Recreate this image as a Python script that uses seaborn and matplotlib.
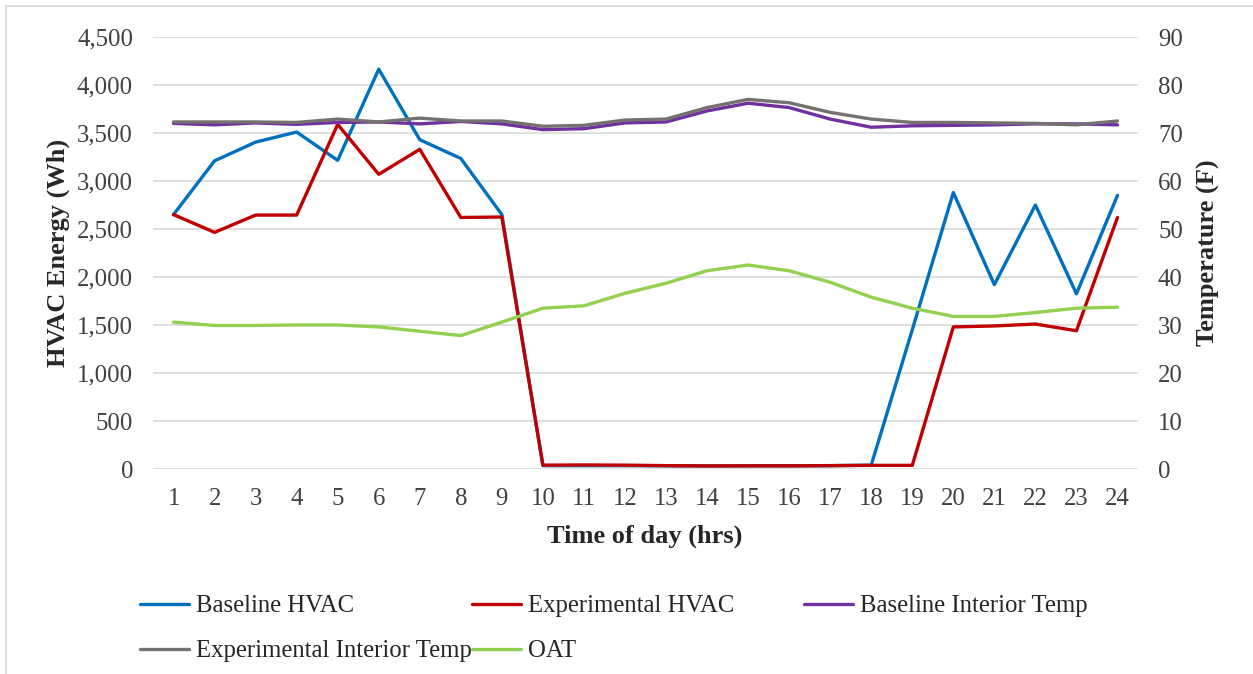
import matplotlib
matplotlib.use('Agg')
import matplotlib.pyplot as plt
import seaborn as sns
import pandas as pd
from matplotlib.patches import Rectangle
from matplotlib.ticker import FuncFormatter, MultipleLocator

hours = list(range(1, 25))
baseline_hvac = [2650, 3210, 3405, 3510, 3215, 4165, 3430, 3235, 2650, 35, 35, 35, 33, 32,
                 33, 33, 35, 40, 1450, 2880, 1920, 2750, 1825, 2850]
experimental_hvac = [2650, 2465, 2645, 2645, 3590, 3070, 3330, 2620, 2625, 40, 42, 40, 35, 32,
                     33, 33, 35, 38, 38, 1480, 1490, 1510, 1440, 2620]
baseline_temp = [72.0, 71.7, 72.1, 71.8, 72.2, 72.3, 71.9, 72.4, 71.9, 70.7, 70.9, 72.1, 72.3,
                 74.6, 76.2, 75.3, 72.9, 71.2, 71.5, 71.6, 71.7, 71.9, 71.9, 71.7]
experimental_temp = [72.3, 72.3, 72.3, 72.2, 72.9, 72.3, 73.1, 72.5, 72.5, 71.4, 71.6, 72.7, 72.9,
                     75.3, 77.0, 76.3, 74.3, 72.9, 72.2, 72.2, 72.1, 72.0, 71.7, 72.5]
oat = [30.6, 29.9, 29.9, 30.0, 30.0, 29.6, 28.7, 27.8, 30.6, 33.5, 34.0, 36.6, 38.7, 41.3,
       42.5, 41.3, 38.9, 35.8, 33.5, 31.8, 31.8, 32.6, 33.5, 33.7]

series_names = ["Baseline HVAC", "Experimental HVAC", "Baseline Interior Temp",
                "Experimental Interior Temp", "OAT"]
colors = ["#0070C0", "#C00000", "#7030A0", "#767171", "#92D050"]

sns.set_theme(style="white")
plt.rcParams['font.family'] = ['Liberation Serif', 'DejaVu Serif']

fig = plt.figure(figsize=(12.53, 6.74), dpi=100)
L, R, T, B = 153, 1138, 37, 469
W, H = R - L, B - T
ax = fig.add_axes([L / 1253, 1 - B / 674, W / 1253, H / 674])
ax2 = ax.twinx()

lw = 2.4
left_data = [baseline_hvac, experimental_hvac]
right_data = [baseline_temp, experimental_temp, oat]
for name, vals, c in zip(series_names[:2], left_data, colors[:2]):
    df = pd.DataFrame({"hour": hours, "value": vals})
    sns.lineplot(data=df, x="hour", y="value", ax=ax, color=c, lw=lw, label=name)
for name, vals, c in zip(series_names[2:], right_data, colors[2:]):
    df = pd.DataFrame({"hour": hours, "value": vals})
    sns.lineplot(data=df, x="hour", y="value", ax=ax2, color=c, lw=lw, label=name)

h1, l1 = ax.get_legend_handles_labels()
h2, l2 = ax2.get_legend_handles_labels()
for a in (ax, ax2):
    if a.get_legend() is not None:
        a.get_legend().remove()
hmap = dict(zip(l1 + l2, h1 + h2))

ax.set_xlim(0.5, 24.5)
ax.set_ylim(0, 4500)
ax2.set_ylim(0, 90)
ax.yaxis.set_major_locator(MultipleLocator(500))
ax2.yaxis.set_major_locator(MultipleLocator(10))
ax.yaxis.set_major_formatter(FuncFormatter(lambda v, p: f"{int(v):,}"))
ax.set_xticks(hours)
ax.set_xticklabels([str(h) for h in hours])

ax.grid(axis='y', color='#D9D9D9', lw=1.2)
ax.grid(axis='x', visible=False)
ax2.grid(False)
ax.set_axisbelow(True)
for a in (ax, ax2):
    for s in a.spines.values():
        s.set_visible(False)
    a.tick_params(length=0, labelsize=17.8, colors='#404040')
ax.tick_params(axis='y', pad=14.4)
ax2.tick_params(axis='y', pad=14.4)
ax.tick_params(axis='x', pad=14)

ax.set_xlabel("Time of day (hrs)", fontsize=19, fontweight='bold', color='#262626')
ax.set_ylabel("HVAC Energy (Wh)", fontsize=19, fontweight='bold', color='#262626')
ax2.set_ylabel("Temperature (F)", fontsize=19, fontweight='bold', color='#262626', rotation=90)
ax.xaxis.set_label_coords((645 - L) / W, -(525 - B) / H)
ax.yaxis.set_label_coords(-(L - 70) / W, 0.5)
ax2.yaxis.set_label_coords(1 + (1197 - R) / W, 0.5)

cols = [["Baseline HVAC", "Experimental Interior Temp"], ["Experimental HVAC", "OAT"],
        ["Baseline Interior Temp"]]
xs = [140, 472, 804]
for col, x in zip(cols, xs):
    leg = fig.legend([hmap[n] for n in col], col, loc='upper left',
                     bbox_to_anchor=(x / 1253, 1 - 595 / 674), frameon=False,
                     fontsize=17.8, handlelength=2.0, handletextpad=0.25,
                     labelspacing=0.92, borderpad=0, borderaxespad=0)
    for t in leg.get_texts():
        t.set_color('#262626')

fig.patches.append(Rectangle((6 / 1253, -0.01), 1.5, 1 - 6 / 674 + 0.01, transform=fig.transFigure,
                             fill=False, edgecolor='#D9D9D9', lw=1.2))

fig.savefig("out.png", dpi=100)
